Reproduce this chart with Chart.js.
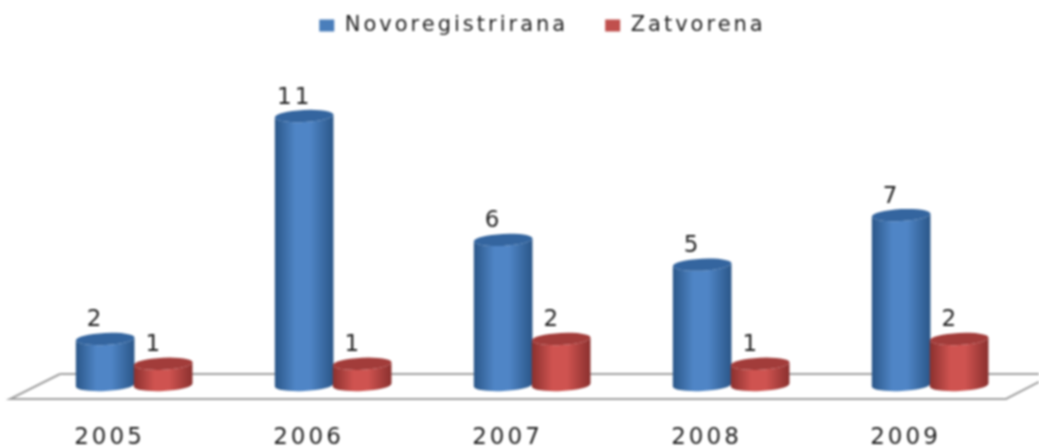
<!DOCTYPE html>
<html><head><meta charset="utf-8">
<script src="https://cdn.jsdelivr.net/npm/chart.js@4"></script>
<style>html,body{margin:0;padding:0;background:#fff}#w{width:1039px;height:446px;position:relative}canvas{filter:blur(0.8px)}</style>
</head><body><div id="w"><canvas id="c"></canvas></div>
<script>
const categories = ['2005','2006','2007','2008','2009'];
const novoregistrirana = [2,11,6,5,7];
const zatvorena = [1,1,2,1,2];
const seriesNames = ['Novoregistrirana','Zatvorena'];
const legendColors = ['#4a7ebb','#c0504d'];
const shades = [
  {edge:'#2a5688',mid:'#4f85c6',top:'#34659f'},
  {edge:'#8a302e',mid:'#cf5350',top:'#a23c3a'}
];
const FONT = '"DejaVu Sans"';
const SPACING = '3px';
const TEXT = '#1e1e1e';

const cyl3d = {
  id:'cyl3d',
  beforeLayout(chart){ chart.ctx.letterSpacing = SPACING; },
  afterLayout(chart){
    const l = chart.legend;
    l.left += 35; l.right += 35; l.top -= 31; l.bottom -= 31;
  },
  beforeDatasetDraw(){ return false; },
  beforeDatasetsDraw(chart){
    const ctx = chart.ctx, a = chart.chartArea;
    ctx.save();
    ctx.letterSpacing = '0px';
    ctx.strokeStyle = '#a0a0a0'; ctx.lineWidth = 2;
    ctx.beginPath();
    ctx.moveTo(a.left+50, a.bottom-25); ctx.lineTo(a.left, a.bottom);
    ctx.lineTo(a.right+1, a.bottom); ctx.lineTo(a.right+34, a.bottom-17);
    ctx.moveTo(a.left+50, a.bottom-25); ctx.lineTo(a.right+34, a.bottom-25);
    ctx.stroke();
    const rot = -0.05;
    chart.data.datasets.forEach((ds,di)=>{
      const s = shades[di];
      chart.getDatasetMeta(di).data.forEach((bar)=>{
        const cx = bar.x + 25 - di*0.7, rx = bar.width/2, ry = 6;
        const topY = bar.y - 10.5, baseY = bar.base - 14;
        const g = ctx.createLinearGradient(cx-rx,0,cx+rx,0);
        g.addColorStop(0,s.edge); g.addColorStop(0.35,s.mid); g.addColorStop(0.6,s.mid); g.addColorStop(1,s.edge);
        ctx.fillStyle = g;
        ctx.beginPath();
        ctx.ellipse(cx,baseY,rx,ry,rot,0,Math.PI);
        ctx.ellipse(cx,topY,rx,ry,rot,Math.PI,0,true);
        ctx.closePath(); ctx.fill();
        ctx.fillStyle = s.top;
        ctx.beginPath(); ctx.ellipse(cx,topY,rx,ry,rot,0,Math.PI*2); ctx.fill();
      });
    });
    ctx.restore();
  },
  afterDatasetsDraw(chart){
    const ctx = chart.ctx;
    ctx.save();
    ctx.font = '23px '+FONT; ctx.fillStyle = TEXT;
    ctx.textAlign='center'; ctx.textBaseline='middle';
    chart.data.datasets.forEach((ds,di)=>{
      chart.getDatasetMeta(di).data.forEach((bar,i)=>{
        ctx.fillText(String(ds.data[i]), bar.x+15.5, bar.y-29);
      });
    });
    ctx.restore();
  }
};

new Chart(document.getElementById('c'),{
  type:'bar',
  data:{labels:categories,datasets:[
    {label:seriesNames[0],data:novoregistrirana,backgroundColor:legendColors[0]},
    {label:seriesNames[1],data:zatvorena,backgroundColor:legendColors[1]}
  ]},
  options:{
    responsive:true,maintainAspectRatio:false,animation:false,
    layout:{padding:{left:10,right:34,top:9,bottom:0}},
    datasets:{bar:{barPercentage:1,categoryPercentage:0.59}},
    plugins:{
      tooltip:{enabled:false},
      legend:{position:'top',align:'center',labels:{
        boxWidth:15,boxHeight:12,padding:37,color:TEXT,
        font:{family:FONT,size:21}}}
    },
    scales:{
      x:{grid:{display:false},border:{display:false},
         afterFit(s){s.height=47;},
         ticks:{color:TEXT,padding:17,maxRotation:0,font:{family:FONT,size:23}}},
      y:{display:false,min:0,max:13}
    }
  },
  plugins:[cyl3d]
});
</script></body></html>
